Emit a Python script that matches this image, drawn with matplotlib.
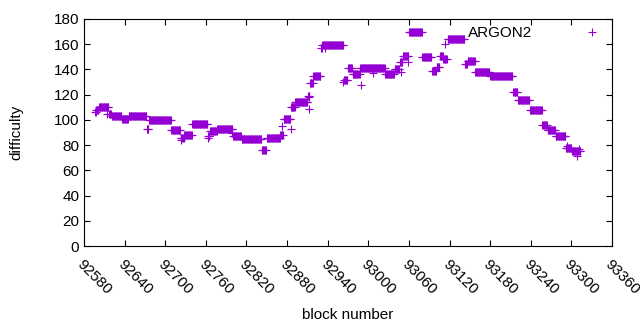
import numpy as np
import matplotlib
matplotlib.use('Agg')
import matplotlib.pyplot as plt

plt.rcParams['font.family'] = ['Liberation Sans', 'DejaVu Sans']

# runs of blocks with the same difficulty (first block, last block, value)
run_start = [92596, 92598, 92602, 92617, 92621, 92636, 92646, 92673, 92676, 92709,
             92723, 92728, 92740, 92763, 92766, 92777, 92800, 92813, 92843, 92850,
             92870, 92875, 92886, 92892, 92911, 92914, 92919, 92930, 92932, 92964,
             92970, 92977, 92988, 93025, 93039, 93047, 93051, 93060, 93080, 93094,
             93101, 93106, 93111, 93117, 93143, 93147, 93158, 93180, 93214, 93221,
             93239, 93257, 93265, 93277, 93292, 93301]
run_end = [92597, 92601, 92616, 92620, 92635, 92645, 92672, 92675, 92708, 92722,
           92727, 92739, 92762, 92765, 92776, 92799, 92812, 92842, 92849, 92869,
           92874, 92885, 92891, 92910, 92913, 92918, 92929, 92931, 92963, 92969,
           92976, 92987, 93024, 93038, 93046, 93050, 93059, 93079, 93093, 93100,
           93105, 93110, 93116, 93142, 93146, 93157, 93179, 93213, 93220, 93238,
           93256, 93264, 93276, 93291, 93300, 93313]
run_value = [106, 108, 110, 105, 103, 101, 103, 93, 100, 92,
             86, 88, 97, 87, 91, 93, 87, 85, 76, 86,
             88, 101, 110, 114, 119, 129, 135, 157, 159, 132,
             141, 136, 141, 136, 140, 146, 151, 170, 150, 139,
             142, 151, 148, 164, 144, 147, 138, 135, 122, 116,
             108, 96, 92, 87, 78, 75]

# single blocks off their run
odd_block = [92614, 92724, 92763, 92799, 92873, 92886, 92889, 92912, 92912, 92936,
             92963, 92989, 93007, 93048, 93059, 93113, 93293, 93308, 93311]
odd_value = [105, 84, 86, 90, 95, 93, 110, 118, 109, 157,
             130, 128, 137, 138, 146, 160, 79, 71, 77]

blocks = []
diffs = []
for s, e, v in zip(run_start, run_end, run_value):
    for b in range(s, e + 1):
        blocks.append(b)
        diffs.append(v)
blocks += odd_block
diffs += odd_value

fig = plt.figure(figsize=(6.4, 3.3), dpi=100)
ax = fig.add_axes([84 / 640, 1 - 246 / 330, 528 / 640, 227 / 330])

ax.plot(blocks, diffs, linestyle='none', marker='+', color='#9400d3',
        markersize=6, markeredgewidth=0.8, label='ARGON2')

ax.set_xlim(92580, 93360)
ax.set_ylim(0, 180)
ax.set_xticks(np.arange(92580, 93361, 60))
ax.set_yticks(np.arange(0, 181, 20))
ax.tick_params(direction='in', length=4, width=0.8, top=True, right=True,
               labelsize=11, colors='black')
ax.tick_params(axis='x', pad=8)
for lbl in ax.get_xticklabels():
    lbl.set_rotation(-45)
    lbl.set_ha('left')
    lbl.set_va('top')
    lbl.set_rotation_mode('anchor')
for sp in ax.spines.values():
    sp.set_linewidth(0.8)

ax.set_xlabel('block number', fontsize=11, labelpad=8)
ax.set_ylabel('difficulty', fontsize=11, labelpad=22)

ax.legend(loc='upper right', bbox_to_anchor=(1.02, 0.967), frameon=False,
          markerfirst=False, handlelength=4, handletextpad=1.9,
          borderpad=0, borderaxespad=0, fontsize=11)

fig.savefig('out.png', dpi=100)
